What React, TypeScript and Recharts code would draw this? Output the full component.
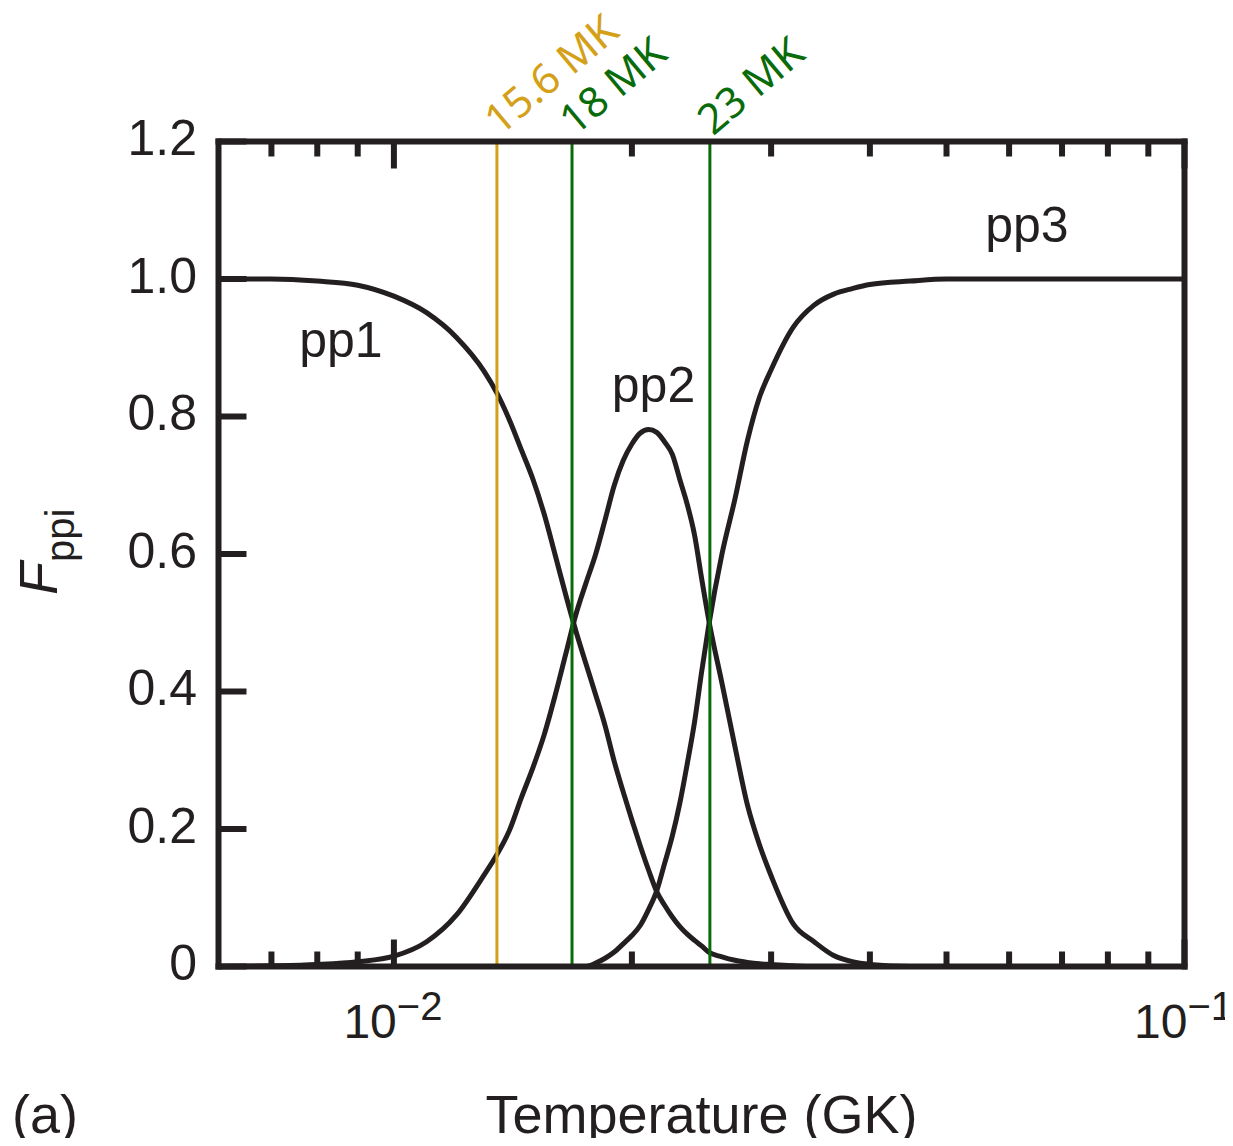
import { LineChart, Line, XAxis, YAxis, ReferenceLine, ReferenceDot } from 'recharts';

// temperature grid (GK) and the three branch fractions
const temperature = [
    0.006, 0.007, 0.008, 0.009, 0.010, 0.011, 0.012, 0.013, 0.0135, 0.014, 0.0145, 0.015,
    0.0155, 0.016, 0.0165, 0.017, 0.0175, 0.018, 0.0185, 0.019, 0.0195, 0.020, 0.0205, 0.021,
    0.0215, 0.022, 0.0225, 0.023, 0.0235, 0.024, 0.0245, 0.025, 0.026, 0.027, 0.028, 0.029,
    0.030, 0.032, 0.034, 0.036, 0.038, 0.040, 0.045, 0.050, 0.060, 0.080, 0.100,
];
const pp1 = [
    1.0, 1.0, 0.997, 0.991, 0.975, 0.951, 0.915, 0.866, 0.834, 0.795, 0.751, 0.708,
    0.657, 0.598, 0.540, 0.487, 0.440, 0.395, 0.350, 0.298, 0.254, 0.213, 0.175, 0.140,
    0.109, 0.089, 0.072, 0.058, 0.047, 0.038, 0.030, 0.021, 0.014, 0.009, 0.006, 0.004,
    0.003, 0.001, 0, 0, 0, 0, 0, 0, 0, 0, 0,
];
const pp2 = [
    0, 0.001, 0.003, 0.007, 0.015, 0.036, 0.075, 0.133, 0.163, 0.198, 0.246, 0.290,
    0.338, 0.395, 0.455, 0.513, 0.558, 0.600, 0.650, 0.700, 0.736, 0.760, 0.776, 0.781,
    0.777, 0.763, 0.745, 0.708, 0.672, 0.628, 0.565, 0.506, 0.412, 0.320, 0.235, 0.177,
    0.132, 0.062, 0.036, 0.016, 0.007, 0.003, 0, 0, 0, 0, 0,
];
const pp3 = [
    0, 0, 0, 0, 0, 0, 0, 0, 0, 0, 0, 0,
    0, 0, 0, 0, 0, 0.005, 0.012, 0.021, 0.033, 0.045, 0.060, 0.083,
    0.110, 0.150, 0.190, 0.238, 0.295, 0.355, 0.428, 0.494, 0.600, 0.680, 0.765, 0.828,
    0.868, 0.930, 0.962, 0.978, 0.986, 0.992, 0.997, 1.0, 1.0, 1.0, 1.0,
];

const xMajorTicks = [0.01, 0.1];
const xMajorExponents = ['\u22122', '\u22121'];
const xTicks = [0.007, 0.008, 0.009, 0.01, 0.02, 0.03, 0.04, 0.05, 0.06, 0.07, 0.08, 0.09, 0.1];
const yTicks = [0, 0.2, 0.4, 0.6, 0.8, 1.0, 1.2];
const yTickLabels = ['0', '0.2', '0.4', '0.6', '0.8', '1.0', '1.2'];

const markerTemps = [0.0135, 0.0168, 0.0251];
const markerLabels = ['15.6 MK', '18 MK', '23 MK'];

const curveNames = ['pp1', 'pp2', 'pp3'];
const curveLabelT = [0.00857, 0.0213, 0.0632];
const curveLabelF = [0.913, 0.847, 1.08];

const INK = '#231f20';
const ORANGE = '#d4a017';
const GREEN = '#0a6b0a';
const markerColors = [ORANGE, GREEN, GREEN];
const FONT = '"Liberation Sans", Arial, Helvetica, sans-serif';

const data = temperature.map((t, i) => ({ t, pp1: pp1[i], pp2: pp2[i], pp3: pp3[i] }));

const frame = { stroke: INK, strokeWidth: 6, strokeLinecap: 'square' as const };

function BottomTick({ x, y, payload }: any) {
    const i = xMajorTicks.indexOf(payload.value);
    const len = i >= 0 ? 27 : 15;
    return (
        <g>
            <line x1={x} x2={x} y1={y} y2={y - len} stroke={INK} strokeWidth={6} />
            {i >= 0 && (
                <text x={x - 1} y={y + 71.5} textAnchor="middle" fontFamily={FONT} fontSize={48} fill={INK}>
                    10<tspan fontSize={40} dy={-18}>{xMajorExponents[i]}</tspan>
                </text>
            )}
        </g>
    );
}

function TopTick({ x, y, payload }: any) {
    const len = xMajorTicks.includes(payload.value) ? 27 : 15;
    return <line x1={x} x2={x} y1={y} y2={y + len} stroke={INK} strokeWidth={6} />;
}

function LeftTick({ x, y, payload }: any) {
    const i = yTicks.indexOf(payload.value);
    return (
        <g>
            <line x1={x} x2={x + 28} y1={y} y2={y} stroke={INK} strokeWidth={6} />
            <text x={x - 21.5} y={y + 13.7} textAnchor="end" fontFamily={FONT} fontSize={50} fill={INK}>
                {yTickLabels[i]}
            </text>
        </g>
    );
}

function RightTick({ x, y }: any) {
    return <line x1={x} x2={x - 28} y1={y} y2={y} stroke={INK} strokeWidth={6} />;
}

function markerLabel(i: number) {
    return ({ viewBox }: any) => (
        <text
            transform={`translate(${viewBox.x + 3}, ${viewBox.y - 5}) rotate(-40)`}
            fontFamily='"Noto Sans", "Open Sans", sans-serif'
            fontSize={42}
            fill={markerColors[i]}
        >
            {markerLabels[i]}
        </text>
    );
}

function XTitle({ viewBox }: any) {
    return (
        <g fontFamily={FONT} fontSize={54} fill={INK}>
            <text x={viewBox.x + viewBox.width / 2} y={viewBox.y + 166.5} textAnchor="middle">
                Temperature (GK)
            </text>
            <text x={4} y={viewBox.y + 166.5}>(a)</text>
        </g>
    );
}

function YTitle() {
    return (
        <text transform="translate(49, 587) rotate(-90)" fontFamily={FONT} fill={INK}>
            <tspan fontSize={54} fontStyle="italic">F</tspan>
            <tspan fontSize={40} dy={17}>ppi</tspan>
        </text>
    );
}

export default function App() {
    return (
        <div style={{ marginBottom: -8 }}>
            <LineChart
                width={1225}
                height={1138}
                data={data}
                margin={{ top: 123.5, right: 38.5, bottom: 119.5, left: 150.5 }}
            >
                <XAxis
                    dataKey="t"
                    type="number"
                    scale="log"
                    domain={[0.006, 0.1]}
                    allowDataOverflow
                    ticks={xTicks}
                    interval={0}
                    tickLine={false}
                    tickSize={0}
                    tickMargin={0}
                    axisLine={frame}
                    tick={(p: any) => <BottomTick {...p} />}
                    height={60}
                    label={{ content: (p: any) => <XTitle {...p} /> }}
                />
                <XAxis
                    xAxisId="top"
                    orientation="top"
                    dataKey="t"
                    type="number"
                    scale="log"
                    domain={[0.006, 0.1]}
                    allowDataOverflow
                    ticks={xTicks}
                    interval={0}
                    tickLine={false}
                    tickSize={0}
                    tickMargin={0}
                    axisLine={frame}
                    tick={(p: any) => <TopTick {...p} />}
                    height={10}
                />
                <YAxis
                    type="number"
                    domain={[0, 1.2]}
                    ticks={yTicks}
                    interval={0}
                    tickLine={false}
                    tickSize={0}
                    tickMargin={0}
                    axisLine={frame}
                    tick={(p: any) => <LeftTick {...p} />}
                    width={60}
                    label={{ content: () => <YTitle /> }}
                />
                <YAxis
                    yAxisId="right"
                    orientation="right"
                    type="number"
                    domain={[0, 1.2]}
                    ticks={yTicks}
                    interval={0}
                    tickLine={false}
                    tickSize={0}
                    tickMargin={0}
                    axisLine={frame}
                    tick={(p: any) => <RightTick {...p} />}
                    width={10}
                />
                <Line type="monotone" dataKey="pp1" stroke={INK} strokeWidth={5} dot={false} activeDot={false} isAnimationActive={false} />
                <Line type="monotone" dataKey="pp2" stroke={INK} strokeWidth={5} dot={false} activeDot={false} isAnimationActive={false} />
                <Line type="monotone" dataKey="pp3" stroke={INK} strokeWidth={5} dot={false} activeDot={false} isAnimationActive={false} />
                {markerTemps.map((t, i) => (
                    <ReferenceLine key={t} x={t} stroke={markerColors[i]} strokeWidth={3} label={markerLabel(i)} />
                ))}
                {curveNames.map((name, i) => (
                    <ReferenceDot
                        key={name}
                        x={curveLabelT[i]}
                        y={curveLabelF[i]}
                        r={0}
                        fill="none"
                        stroke="none"
                        label={{ value: name, position: 'center', fontFamily: FONT, fontSize: 50, fill: INK }}
                    />
                ))}
            </LineChart>
        </div>
    );
}
